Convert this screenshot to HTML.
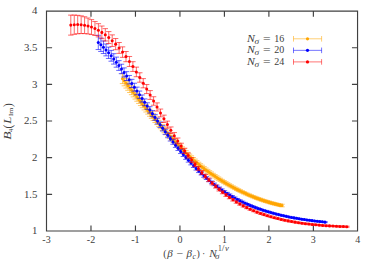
<!DOCTYPE html>
<html><head><meta charset="utf-8"><title>plot</title>
<style>html,body{margin:0;padding:0;background:#fff}body{width:374px;height:263px;position:relative;overflow:hidden;font-family:"Liberation Serif",serif}</style></head>
<body>
<svg width="374" height="263" viewBox="0 0 374 263" style="position:absolute;left:0;top:0">
<path d="M46.5 11.05H357.55V231.0H46.5ZM90.98 231.0v-5.6M90.98 11.05v5.6M135.46 231.0v-5.6M135.46 11.05v5.6M179.94 231.0v-5.6M179.94 11.05v5.6M224.41 231.0v-5.6M224.41 11.05v5.6M268.89 231.0v-5.6M268.89 11.05v5.6M313.37 231.0v-5.6M313.37 11.05v5.6M46.5 194.34h5.6M357.55 194.34h-5.6M46.5 157.68h5.6M357.55 157.68h-5.6M46.5 121.02h5.6M357.55 121.02h-5.6M46.5 84.37h5.6M357.55 84.37h-5.6M46.5 47.71h5.6M357.55 47.71h-5.6" stroke="#404040" stroke-width="1.15" fill="none"/>
<path d="M122.50 73.68V83.62M119.80 73.68h5.40M119.80 83.62h5.40M124.31 76.13V85.84M121.61 76.13h5.40M121.61 85.84h5.40M126.12 78.57V88.06M123.42 78.57h5.40M123.42 88.06h5.40M127.94 81.00V90.27M125.24 81.00h5.40M125.24 90.27h5.40M129.75 83.42V92.47M127.05 83.42h5.40M127.05 92.47h5.40M131.56 85.83V94.67M128.86 85.83h5.40M128.86 94.67h5.40M133.38 88.23V96.87M130.68 88.23h5.40M130.68 96.87h5.40M135.19 90.62V99.06M132.49 90.62h5.40M132.49 99.06h5.40M137.00 93.00V101.23M134.30 93.00h5.40M134.30 101.23h5.40M138.81 95.36V103.41M136.11 95.36h5.40M136.11 103.41h5.40M140.62 97.71V105.57M137.93 97.71h5.40M137.93 105.57h5.40M142.44 100.04V107.72M139.74 100.04h5.40M139.74 107.72h5.40M144.25 102.36V109.87M141.55 102.36h5.40M141.55 109.87h5.40M146.06 104.67V112.01M143.36 104.67h5.40M143.36 112.01h5.40M147.88 106.95V114.13M145.18 106.95h5.40M145.18 114.13h5.40M149.69 109.22V116.25M146.99 109.22h5.40M146.99 116.25h5.40M151.50 111.48V118.36M148.80 111.48h5.40M148.80 118.36h5.40M153.31 113.72V120.45M150.61 113.72h5.40M150.61 120.45h5.40M155.12 115.94V122.53M152.43 115.94h5.40M152.43 122.53h5.40M156.94 118.14V124.60M154.24 118.14h5.40M154.24 124.60h5.40M158.75 120.33V126.65M156.05 120.33h5.40M156.05 126.65h5.40M160.56 122.50V128.69M157.86 122.50h5.40M157.86 128.69h5.40M162.38 124.64V130.72M159.68 124.64h5.40M159.68 130.72h5.40M164.19 126.77V132.73M161.49 126.77h5.40M161.49 132.73h5.40M166.00 128.89V134.72M163.30 128.89h5.40M163.30 134.72h5.40M167.81 130.98V136.69M165.11 130.98h5.40M165.11 136.69h5.40M169.62 133.05V138.65M166.93 133.05h5.40M166.93 138.65h5.40M171.44 135.10V140.59M168.74 135.10h5.40M168.74 140.59h5.40M173.25 137.13V142.51M170.55 137.13h5.40M170.55 142.51h5.40M175.06 139.13V144.41M172.36 139.13h5.40M172.36 144.41h5.40M176.88 141.11V146.29M174.18 141.11h5.40M174.18 146.29h5.40M178.69 143.07V148.14M175.99 143.07h5.40M175.99 148.14h5.40M180.50 144.99V149.97M177.80 144.99h5.40M177.80 149.97h5.40M182.31 146.89V151.76M179.61 146.89h5.40M179.61 151.76h5.40M184.12 148.75V153.53M181.43 148.75h5.40M181.43 153.53h5.40M185.94 150.58V155.26M183.24 150.58h5.40M183.24 155.26h5.40M187.75 152.37V156.95M185.05 152.37h5.40M185.05 156.95h5.40M189.56 154.12V158.61M186.86 154.12h5.40M186.86 158.61h5.40M191.38 155.83V160.23M188.68 155.83h5.40M188.68 160.23h5.40M193.19 157.50V161.81M190.49 157.50h5.40M190.49 161.81h5.40M195.00 159.13V163.35M192.30 159.13h5.40M192.30 163.35h5.40M196.81 160.71V164.85M194.11 160.71h5.40M194.11 164.85h5.40M198.62 162.26V166.31M195.93 162.26h5.40M195.93 166.31h5.40M200.44 163.76V167.74M197.74 163.76h5.40M197.74 167.74h5.40M202.25 165.22V169.12M199.55 165.22h5.40M199.55 169.12h5.40M204.06 166.64V170.47M201.36 166.64h5.40M201.36 170.47h5.40M205.88 168.03V171.78M203.18 168.03h5.40M203.18 171.78h5.40M207.69 169.39V173.07M204.99 169.39h5.40M204.99 173.07h5.40M209.50 170.72V174.34M206.80 170.72h5.40M206.80 174.34h5.40M211.31 172.03V175.58M208.61 172.03h5.40M208.61 175.58h5.40M213.12 173.32V176.80M210.43 173.32h5.40M210.43 176.80h5.40M214.94 174.58V178.00M212.24 174.58h5.40M212.24 178.00h5.40M216.75 175.82V179.17M214.05 175.82h5.40M214.05 179.17h5.40M218.56 177.03V180.32M215.86 177.03h5.40M215.86 180.32h5.40M220.38 178.22V181.44M217.68 178.22h5.40M217.68 181.44h5.40M222.19 179.39V182.54M219.49 179.39h5.40M219.49 182.54h5.40M224.00 180.54V183.62M221.30 180.54h5.40M221.30 183.62h5.40M225.81 181.66V184.67M223.11 181.66h5.40M223.11 184.67h5.40M227.62 182.75V185.71M224.93 182.75h5.40M224.93 185.71h5.40M229.44 183.83V186.72M226.74 183.83h5.40M226.74 186.72h5.40M231.25 184.87V187.71M228.55 184.87h5.40M228.55 187.71h5.40M233.06 185.90V188.68M230.36 185.90h5.40M230.36 188.68h5.40M234.88 186.89V189.62M232.18 186.89h5.40M232.18 189.62h5.40M236.69 187.87V190.55M233.99 187.87h5.40M233.99 190.55h5.40M238.50 188.81V191.45M235.80 188.81h5.40M235.80 191.45h5.40M240.31 189.74V192.34M237.61 189.74h5.40M237.61 192.34h5.40M242.12 190.63V193.20M239.43 190.63h5.40M239.43 193.20h5.40M243.94 191.50V194.04M241.24 191.50h5.40M241.24 194.04h5.40M245.75 192.35V194.87M243.05 192.35h5.40M243.05 194.87h5.40M247.56 193.17V195.67M244.86 193.17h5.40M244.86 195.67h5.40M249.38 193.96V196.46M246.68 193.96h5.40M246.68 196.46h5.40M251.19 194.72V197.22M248.49 194.72h5.40M248.49 197.22h5.40M253.00 195.47V197.97M250.30 195.47h5.40M250.30 197.97h5.40M254.81 196.19V198.69M252.11 196.19h5.40M252.11 198.69h5.40M256.62 196.89V199.39M253.93 196.89h5.40M253.93 199.39h5.40M258.44 197.56V200.06M255.74 197.56h5.40M255.74 200.06h5.40M260.25 198.21V200.71M257.55 198.21h5.40M257.55 200.71h5.40M262.06 198.84V201.35M259.36 198.84h5.40M259.36 201.35h5.40M263.88 199.45V201.95M261.18 199.45h5.40M261.18 201.95h5.40M265.69 200.03V202.54M262.99 200.03h5.40M262.99 202.54h5.40M267.50 200.59V203.10M264.80 200.59h5.40M264.80 203.10h5.40M269.31 201.13V203.65M266.61 201.13h5.40M266.61 203.65h5.40M271.12 201.64V204.17M268.43 201.64h5.40M268.43 204.17h5.40M272.94 202.14V204.67M270.24 202.14h5.40M270.24 204.67h5.40M274.75 202.61V205.14M272.05 202.61h5.40M272.05 205.14h5.40M276.56 203.05V205.60M273.86 203.05h5.40M273.86 205.60h5.40M278.38 203.48V206.03M275.68 203.48h5.40M275.68 206.03h5.40M280.19 203.88V206.44M277.49 203.88h5.40M277.49 206.44h5.40M282.00 204.26V206.83M279.30 204.26h5.40M279.30 206.83h5.40" stroke="#ffa500" stroke-width="0.6" fill="none"/>
<g fill="#ffa500"><circle cx="122.50" cy="78.65" r="1.52"/><circle cx="124.31" cy="80.98" r="1.52"/><circle cx="126.12" cy="83.31" r="1.52"/><circle cx="127.94" cy="85.63" r="1.52"/><circle cx="129.75" cy="87.95" r="1.52"/><circle cx="131.56" cy="90.25" r="1.52"/><circle cx="133.38" cy="92.55" r="1.52"/><circle cx="135.19" cy="94.84" r="1.52"/><circle cx="137.00" cy="97.12" r="1.52"/><circle cx="138.81" cy="99.38" r="1.52"/><circle cx="140.62" cy="101.64" r="1.52"/><circle cx="142.44" cy="103.88" r="1.52"/><circle cx="144.25" cy="106.12" r="1.52"/><circle cx="146.06" cy="108.34" r="1.52"/><circle cx="147.88" cy="110.54" r="1.52"/><circle cx="149.69" cy="112.74" r="1.52"/><circle cx="151.50" cy="114.92" r="1.52"/><circle cx="153.31" cy="117.08" r="1.52"/><circle cx="155.12" cy="119.23" r="1.52"/><circle cx="156.94" cy="121.37" r="1.52"/><circle cx="158.75" cy="123.49" r="1.52"/><circle cx="160.56" cy="125.59" r="1.52"/><circle cx="162.38" cy="127.68" r="1.52"/><circle cx="164.19" cy="129.75" r="1.52"/><circle cx="166.00" cy="131.80" r="1.52"/><circle cx="167.81" cy="133.83" r="1.52"/><circle cx="169.62" cy="135.85" r="1.52"/><circle cx="171.44" cy="137.84" r="1.52"/><circle cx="173.25" cy="139.82" r="1.52"/><circle cx="175.06" cy="141.77" r="1.52"/><circle cx="176.88" cy="143.70" r="1.52"/><circle cx="178.69" cy="145.60" r="1.52"/><circle cx="180.50" cy="147.48" r="1.52"/><circle cx="182.31" cy="149.32" r="1.52"/><circle cx="184.12" cy="151.14" r="1.52"/><circle cx="185.94" cy="152.92" r="1.52"/><circle cx="187.75" cy="154.66" r="1.52"/><circle cx="189.56" cy="156.36" r="1.52"/><circle cx="191.38" cy="158.03" r="1.52"/><circle cx="193.19" cy="159.65" r="1.52"/><circle cx="195.00" cy="161.24" r="1.52"/><circle cx="196.81" cy="162.78" r="1.52"/><circle cx="198.62" cy="164.29" r="1.52"/><circle cx="200.44" cy="165.75" r="1.52"/><circle cx="202.25" cy="167.17" r="1.52"/><circle cx="204.06" cy="168.56" r="1.52"/><circle cx="205.88" cy="169.91" r="1.52"/><circle cx="207.69" cy="171.23" r="1.52"/><circle cx="209.50" cy="172.53" r="1.52"/><circle cx="211.31" cy="173.81" r="1.52"/><circle cx="213.12" cy="175.06" r="1.52"/><circle cx="214.94" cy="176.29" r="1.52"/><circle cx="216.75" cy="177.49" r="1.52"/><circle cx="218.56" cy="178.67" r="1.52"/><circle cx="220.38" cy="179.83" r="1.52"/><circle cx="222.19" cy="180.97" r="1.52"/><circle cx="224.00" cy="182.08" r="1.52"/><circle cx="225.81" cy="183.17" r="1.52"/><circle cx="227.62" cy="184.23" r="1.52"/><circle cx="229.44" cy="185.27" r="1.52"/><circle cx="231.25" cy="186.29" r="1.52"/><circle cx="233.06" cy="187.29" r="1.52"/><circle cx="234.88" cy="188.26" r="1.52"/><circle cx="236.69" cy="189.21" r="1.52"/><circle cx="238.50" cy="190.13" r="1.52"/><circle cx="240.31" cy="191.04" r="1.52"/><circle cx="242.12" cy="191.92" r="1.52"/><circle cx="243.94" cy="192.77" r="1.52"/><circle cx="245.75" cy="193.61" r="1.52"/><circle cx="247.56" cy="194.42" r="1.52"/><circle cx="249.38" cy="195.21" r="1.52"/><circle cx="251.19" cy="195.97" r="1.52"/><circle cx="253.00" cy="196.72" r="1.52"/><circle cx="254.81" cy="197.44" r="1.52"/><circle cx="256.62" cy="198.14" r="1.52"/><circle cx="258.44" cy="198.81" r="1.52"/><circle cx="260.25" cy="199.46" r="1.52"/><circle cx="262.06" cy="200.09" r="1.52"/><circle cx="263.88" cy="200.70" r="1.52"/><circle cx="265.69" cy="201.29" r="1.52"/><circle cx="267.50" cy="201.85" r="1.52"/><circle cx="269.31" cy="202.39" r="1.52"/><circle cx="271.12" cy="202.91" r="1.52"/><circle cx="272.94" cy="203.40" r="1.52"/><circle cx="274.75" cy="203.87" r="1.52"/><circle cx="276.56" cy="204.32" r="1.52"/><circle cx="278.38" cy="204.75" r="1.52"/><circle cx="280.19" cy="205.16" r="1.52"/><circle cx="282.00" cy="205.54" r="1.52"/></g>

<path d="M98.30 35.26V49.55M95.60 35.26h5.40M95.60 49.55h5.40M100.88 38.05V51.44M98.18 38.05h5.40M98.18 51.44h5.40M103.45 40.98V53.54M100.75 40.98h5.40M100.75 53.54h5.40M106.03 44.03V55.87M103.33 44.03h5.40M103.33 55.87h5.40M108.60 47.16V58.44M105.90 47.16h5.40M105.90 58.44h5.40M111.18 50.37V61.20M108.48 50.37h5.40M108.48 61.20h5.40M113.76 53.69V64.12M111.06 53.69h5.40M111.06 64.12h5.40M116.33 57.11V67.19M113.63 57.11h5.40M113.63 67.19h5.40M118.91 60.63V70.38M116.21 60.63h5.40M116.21 70.38h5.40M121.49 64.22V73.67M118.79 64.22h5.40M118.79 73.67h5.40M124.06 67.90V77.05M121.36 67.90h5.40M121.36 77.05h5.40M126.64 71.65V80.50M123.94 71.65h5.40M123.94 80.50h5.40M129.21 75.47V84.00M126.51 75.47h5.40M126.51 84.00h5.40M131.79 79.33V87.55M129.09 79.33h5.40M129.09 87.55h5.40M134.37 83.22V91.13M131.67 83.22h5.40M131.67 91.13h5.40M136.94 87.13V94.75M134.24 87.13h5.40M134.24 94.75h5.40M139.52 91.05V98.39M136.82 91.05h5.40M136.82 98.39h5.40M142.09 94.98V102.05M139.39 94.98h5.40M139.39 102.05h5.40M144.67 98.91V105.72M141.97 98.91h5.40M141.97 105.72h5.40M147.25 102.81V109.39M144.55 102.81h5.40M144.55 109.39h5.40M149.82 106.70V113.05M147.12 106.70h5.40M147.12 113.05h5.40M152.40 110.57V116.70M149.70 110.57h5.40M149.70 116.70h5.40M154.97 114.40V120.32M152.28 114.40h5.40M152.28 120.32h5.40M157.55 118.19V123.90M154.85 118.19h5.40M154.85 123.90h5.40M160.13 121.93V127.44M157.43 121.93h5.40M157.43 127.44h5.40M162.70 125.61V130.93M160.00 125.61h5.40M160.00 130.93h5.40M165.28 129.23V134.36M162.58 129.23h5.40M162.58 134.36h5.40M167.86 132.77V137.73M165.16 132.77h5.40M165.16 137.73h5.40M170.43 136.25V141.03M167.73 136.25h5.40M167.73 141.03h5.40M173.01 139.65V144.26M170.31 139.65h5.40M170.31 144.26h5.40M175.58 142.97V147.42M172.88 142.97h5.40M172.88 147.42h5.40M178.16 146.21V150.52M175.46 146.21h5.40M175.46 150.52h5.40M180.74 149.38V153.54M178.04 149.38h5.40M178.04 153.54h5.40M183.31 152.47V156.49M180.61 152.47h5.40M180.61 156.49h5.40M185.89 155.48V159.36M183.19 155.48h5.40M183.19 159.36h5.40M188.46 158.41V162.15M185.76 158.41h5.40M185.76 162.15h5.40M191.04 161.26V164.87M188.34 161.26h5.40M188.34 164.87h5.40M193.62 164.03V167.51M190.92 164.03h5.40M190.92 167.51h5.40M196.19 166.72V170.08M193.49 166.72h5.40M193.49 170.08h5.40M198.77 169.32V172.56M196.07 169.32h5.40M196.07 172.56h5.40M201.35 171.84V174.96M198.65 171.84h5.40M198.65 174.96h5.40M203.92 174.27V177.27M201.22 174.27h5.40M201.22 177.27h5.40M206.50 176.61V179.51M203.80 176.61h5.40M203.80 179.51h5.40M209.07 178.87V181.66M206.37 178.87h5.40M206.37 181.66h5.40M211.65 181.04V183.73M208.95 181.04h5.40M208.95 183.73h5.40M214.23 183.12V185.72M211.53 183.12h5.40M211.53 185.72h5.40M216.80 185.13V187.64M214.10 185.13h5.40M214.10 187.64h5.40M219.38 187.06V189.48M216.68 187.06h5.40M216.68 189.48h5.40M221.95 188.90V191.24M219.25 188.90h5.40M219.25 191.24h5.40M224.53 190.68V192.93M221.83 190.68h5.40M221.83 192.93h5.40M227.11 192.38V194.55M224.41 192.38h5.40M224.41 194.55h5.40M229.68 194.01V196.10M226.98 194.01h5.40M226.98 196.10h5.40M232.26 195.57V197.58M229.56 195.57h5.40M229.56 197.58h5.40M234.84 197.06V198.99M232.14 197.06h5.40M232.14 198.99h5.40M237.41 198.48V200.34M234.71 198.48h5.40M234.71 200.34h5.40M239.99 199.84V201.63M237.29 199.84h5.40M237.29 201.63h5.40M242.56 201.14V202.86M239.86 201.14h5.40M239.86 202.86h5.40M245.14 202.37V204.03M242.44 202.37h5.40M242.44 204.03h5.40M247.72 203.55V205.15M245.02 203.55h5.40M245.02 205.15h5.40M250.29 204.68V206.22M247.59 204.68h5.40M247.59 206.22h5.40M252.87 205.74V207.24M250.17 205.74h5.40M250.17 207.24h5.40M255.44 206.76V208.22M252.74 206.76h5.40M252.74 208.22h5.40M258.02 207.73V209.15M255.32 207.73h5.40M255.32 209.15h5.40M260.60 208.65V210.04M257.90 208.65h5.40M257.90 210.04h5.40M263.17 209.53V210.90M260.47 209.53h5.40M260.47 210.90h5.40M265.75 210.37V211.71M263.05 210.37h5.40M263.05 211.71h5.40M268.32 211.16V212.48M265.62 211.16h5.40M265.62 212.48h5.40M270.90 211.93V213.22M268.20 211.93h5.40M268.20 213.22h5.40M273.48 212.65V213.93M270.78 212.65h5.40M270.78 213.93h5.40M276.05 213.34V214.60M273.35 213.34h5.40M273.35 214.60h5.40M278.63 214.00V215.23M275.93 214.00h5.40M275.93 215.23h5.40M281.21 214.63V215.84M278.51 214.63h5.40M278.51 215.84h5.40M283.78 215.22V216.41M281.08 215.22h5.40M281.08 216.41h5.40M286.36 215.79V216.96M283.66 215.79h5.40M283.66 216.96h5.40M288.93 216.32V217.48M286.23 216.32h5.40M286.23 217.48h5.40M291.51 216.84V217.97M288.81 216.84h5.40M288.81 217.97h5.40M294.09 217.32V218.44M291.39 217.32h5.40M291.39 218.44h5.40M296.66 217.78V218.89M293.96 217.78h5.40M293.96 218.89h5.40M299.24 218.22V219.31M296.54 218.22h5.40M296.54 219.31h5.40M301.81 218.64V219.71M299.11 218.64h5.40M299.11 219.71h5.40M304.39 219.03V220.09M301.69 219.03h5.40M301.69 220.09h5.40M306.97 219.41V220.46M304.27 219.41h5.40M304.27 220.46h5.40M309.54 219.77V220.81M306.84 219.77h5.40M306.84 220.81h5.40M312.12 220.11V221.14M309.42 220.11h5.40M309.42 221.14h5.40M314.70 220.44V221.46M312.00 220.44h5.40M312.00 221.46h5.40M317.27 220.75V221.77M314.57 220.75h5.40M314.57 221.77h5.40M319.85 221.05V222.07M317.15 221.05h5.40M317.15 222.07h5.40M322.42 221.35V222.35M319.72 221.35h5.40M319.72 222.35h5.40M325.00 221.63V222.63M322.30 221.63h5.40M322.30 222.63h5.40" stroke="#0000ff" stroke-width="0.6" fill="none"/>
<g fill="#0000ff"><circle cx="98.30" cy="42.41" r="1.52"/><circle cx="100.88" cy="44.75" r="1.52"/><circle cx="103.45" cy="47.26" r="1.52"/><circle cx="106.03" cy="49.95" r="1.52"/><circle cx="108.60" cy="52.80" r="1.52"/><circle cx="111.18" cy="55.79" r="1.52"/><circle cx="113.76" cy="58.91" r="1.52"/><circle cx="116.33" cy="62.15" r="1.52"/><circle cx="118.91" cy="65.50" r="1.52"/><circle cx="121.49" cy="68.95" r="1.52"/><circle cx="124.06" cy="72.47" r="1.52"/><circle cx="126.64" cy="76.07" r="1.52"/><circle cx="129.21" cy="79.73" r="1.52"/><circle cx="131.79" cy="83.44" r="1.52"/><circle cx="134.37" cy="87.18" r="1.52"/><circle cx="136.94" cy="90.94" r="1.52"/><circle cx="139.52" cy="94.72" r="1.52"/><circle cx="142.09" cy="98.52" r="1.52"/><circle cx="144.67" cy="102.31" r="1.52"/><circle cx="147.25" cy="106.10" r="1.52"/><circle cx="149.82" cy="109.88" r="1.52"/><circle cx="152.40" cy="113.63" r="1.52"/><circle cx="154.97" cy="117.36" r="1.52"/><circle cx="157.55" cy="121.04" r="1.52"/><circle cx="160.13" cy="124.68" r="1.52"/><circle cx="162.70" cy="128.27" r="1.52"/><circle cx="165.28" cy="131.80" r="1.52"/><circle cx="167.86" cy="135.25" r="1.52"/><circle cx="170.43" cy="138.64" r="1.52"/><circle cx="173.01" cy="141.95" r="1.52"/><circle cx="175.58" cy="145.20" r="1.52"/><circle cx="178.16" cy="148.36" r="1.52"/><circle cx="180.74" cy="151.46" r="1.52"/><circle cx="183.31" cy="154.48" r="1.52"/><circle cx="185.89" cy="157.42" r="1.52"/><circle cx="188.46" cy="160.28" r="1.52"/><circle cx="191.04" cy="163.07" r="1.52"/><circle cx="193.62" cy="165.77" r="1.52"/><circle cx="196.19" cy="168.40" r="1.52"/><circle cx="198.77" cy="170.94" r="1.52"/><circle cx="201.35" cy="173.40" r="1.52"/><circle cx="203.92" cy="175.77" r="1.52"/><circle cx="206.50" cy="178.06" r="1.52"/><circle cx="209.07" cy="180.26" r="1.52"/><circle cx="211.65" cy="182.38" r="1.52"/><circle cx="214.23" cy="184.42" r="1.52"/><circle cx="216.80" cy="186.38" r="1.52"/><circle cx="219.38" cy="188.27" r="1.52"/><circle cx="221.95" cy="190.07" r="1.52"/><circle cx="224.53" cy="191.80" r="1.52"/><circle cx="227.11" cy="193.46" r="1.52"/><circle cx="229.68" cy="195.05" r="1.52"/><circle cx="232.26" cy="196.57" r="1.52"/><circle cx="234.84" cy="198.02" r="1.52"/><circle cx="237.41" cy="199.41" r="1.52"/><circle cx="239.99" cy="200.73" r="1.52"/><circle cx="242.56" cy="202.00" r="1.52"/><circle cx="245.14" cy="203.20" r="1.52"/><circle cx="247.72" cy="204.35" r="1.52"/><circle cx="250.29" cy="205.45" r="1.52"/><circle cx="252.87" cy="206.49" r="1.52"/><circle cx="255.44" cy="207.49" r="1.52"/><circle cx="258.02" cy="208.44" r="1.52"/><circle cx="260.60" cy="209.35" r="1.52"/><circle cx="263.17" cy="210.21" r="1.52"/><circle cx="265.75" cy="211.04" r="1.52"/><circle cx="268.32" cy="211.82" r="1.52"/><circle cx="270.90" cy="212.57" r="1.52"/><circle cx="273.48" cy="213.29" r="1.52"/><circle cx="276.05" cy="213.97" r="1.52"/><circle cx="278.63" cy="214.62" r="1.52"/><circle cx="281.21" cy="215.23" r="1.52"/><circle cx="283.78" cy="215.82" r="1.52"/><circle cx="286.36" cy="216.37" r="1.52"/><circle cx="288.93" cy="216.90" r="1.52"/><circle cx="291.51" cy="217.40" r="1.52"/><circle cx="294.09" cy="217.88" r="1.52"/><circle cx="296.66" cy="218.33" r="1.52"/><circle cx="299.24" cy="218.76" r="1.52"/><circle cx="301.81" cy="219.17" r="1.52"/><circle cx="304.39" cy="219.56" r="1.52"/><circle cx="306.97" cy="219.93" r="1.52"/><circle cx="309.54" cy="220.29" r="1.52"/><circle cx="312.12" cy="220.63" r="1.52"/><circle cx="314.70" cy="220.95" r="1.52"/><circle cx="317.27" cy="221.26" r="1.52"/><circle cx="319.85" cy="221.56" r="1.52"/><circle cx="322.42" cy="221.85" r="1.52"/><circle cx="325.00" cy="222.13" r="1.52"/></g>

<path d="M70.80 15.12V35.12M68.10 15.12h5.40M68.10 35.12h5.40M74.25 15.06V34.31M71.55 15.06h5.40M71.55 34.31h5.40M77.70 15.30V33.78M75.00 15.30h5.40M75.00 33.78h5.40M81.15 15.87V33.55M78.45 15.87h5.40M78.45 33.55h5.40M84.60 16.77V33.61M81.90 16.77h5.40M81.90 33.61h5.40M88.05 18.02V33.94M85.35 18.02h5.40M85.35 33.94h5.40M91.50 19.64V34.55M88.80 19.64h5.40M88.80 34.55h5.40M94.95 21.55V35.50M92.25 21.55h5.40M92.25 35.50h5.40M98.40 23.68V36.89M95.70 23.68h5.40M95.70 36.89h5.40M101.85 26.02V38.73M99.15 26.02h5.40M99.15 38.73h5.40M105.30 28.65V40.95M102.60 28.65h5.40M102.60 40.95h5.40M108.75 31.60V43.54M106.05 31.60h5.40M106.05 43.54h5.40M112.20 34.89V46.47M109.50 34.89h5.40M109.50 46.47h5.40M115.65 38.53V49.73M112.95 38.53h5.40M112.95 49.73h5.40M119.10 42.53V53.36M116.40 42.53h5.40M116.40 53.36h5.40M122.55 46.86V57.35M119.85 46.86h5.40M119.85 57.35h5.40M126.00 51.52V61.72M123.30 51.52h5.40M123.30 61.72h5.40M129.45 56.48V66.44M126.75 56.48h5.40M126.75 66.44h5.40M132.90 61.69V71.45M130.20 61.69h5.40M130.20 71.45h5.40M136.35 67.14V76.72M133.65 67.14h5.40M133.65 76.72h5.40M139.80 72.79V82.20M137.10 72.79h5.40M137.10 82.20h5.40M143.25 78.61V87.83M140.55 78.61h5.40M140.55 87.83h5.40M146.70 84.56V93.58M144.00 84.56h5.40M144.00 93.58h5.40M150.15 90.61V99.40M147.45 90.61h5.40M147.45 99.40h5.40M153.60 96.74V105.23M150.90 96.74h5.40M150.90 105.23h5.40M157.05 102.90V111.05M154.35 102.90h5.40M154.35 111.05h5.40M160.50 109.05V116.81M157.80 109.05h5.40M157.80 116.81h5.40M163.95 115.14V122.49M161.25 115.14h5.40M161.25 122.49h5.40M167.40 121.12V128.06M164.70 121.12h5.40M164.70 128.06h5.40M170.85 126.95V133.48M168.15 126.95h5.40M168.15 133.48h5.40M174.30 132.58V138.73M171.60 132.58h5.40M171.60 138.73h5.40M177.75 138.01V143.81M175.05 138.01h5.40M175.05 143.81h5.40M181.20 143.23V148.73M178.50 143.23h5.40M178.50 148.73h5.40M184.65 148.24V153.47M181.95 148.24h5.40M181.95 153.47h5.40M188.10 153.07V158.03M185.40 153.07h5.40M185.40 158.03h5.40M191.55 157.71V162.41M188.85 157.71h5.40M188.85 162.41h5.40M195.00 162.16V166.60M192.30 162.16h5.40M192.30 166.60h5.40M198.45 166.42V170.62M195.75 166.42h5.40M195.75 170.62h5.40M201.90 170.48V174.45M199.20 170.48h5.40M199.20 174.45h5.40M205.35 174.36V178.11M202.65 174.36h5.40M202.65 178.11h5.40M208.80 178.04V181.59M206.10 178.04h5.40M206.10 181.59h5.40M212.25 181.54V184.90M209.55 181.54h5.40M209.55 184.90h5.40M215.70 184.84V188.03M213.00 184.84h5.40M213.00 188.03h5.40M219.15 187.95V190.99M216.45 187.95h5.40M216.45 190.99h5.40M222.60 190.87V193.77M219.90 190.87h5.40M219.90 193.77h5.40M226.05 193.61V196.37M223.35 193.61h5.40M223.35 196.37h5.40M229.50 196.17V198.80M226.80 196.17h5.40M226.80 198.80h5.40M232.95 198.57V201.06M230.25 198.57h5.40M230.25 201.06h5.40M236.40 200.80V203.18M233.70 200.80h5.40M233.70 203.18h5.40M239.85 202.87V205.14M237.15 202.87h5.40M237.15 205.14h5.40M243.30 204.80V206.97M240.60 204.80h5.40M240.60 206.97h5.40M246.75 206.59V208.66M244.05 206.59h5.40M244.05 208.66h5.40M250.20 208.25V210.24M247.50 208.25h5.40M247.50 210.24h5.40M253.65 209.79V211.70M250.95 209.79h5.40M250.95 211.70h5.40M257.10 211.21V213.05M254.40 211.21h5.40M254.40 213.05h5.40M260.55 212.52V214.31M257.85 212.52h5.40M257.85 214.31h5.40M264.00 213.73V215.48M261.30 213.73h5.40M261.30 215.48h5.40M267.45 214.86V216.56M264.75 214.86h5.40M264.75 216.56h5.40M270.90 215.90V217.56M268.20 215.90h5.40M268.20 217.56h5.40M274.35 216.88V218.50M271.65 216.88h5.40M271.65 218.50h5.40M277.80 217.79V219.36M275.10 217.79h5.40M275.10 219.36h5.40M281.25 218.63V220.17M278.55 218.63h5.40M278.55 220.17h5.40M284.70 219.42V220.92M282.00 219.42h5.40M282.00 220.92h5.40M288.15 220.15V221.61M285.45 220.15h5.40M285.45 221.61h5.40M291.60 220.82V222.24M288.90 220.82h5.40M288.90 222.24h5.40M295.05 221.44V222.83M292.35 221.44h5.40M292.35 222.83h5.40M298.50 222.01V223.37M295.80 222.01h5.40M295.80 223.37h5.40M301.95 222.53V223.86M299.25 222.53h5.40M299.25 223.86h5.40M305.40 223.01V224.30M302.70 223.01h5.40M302.70 224.30h5.40M308.85 223.44V224.71M306.15 223.44h5.40M306.15 224.71h5.40M312.30 223.84V225.08M309.60 223.84h5.40M309.60 225.08h5.40M315.75 224.19V225.41M313.05 224.19h5.40M313.05 225.41h5.40M319.20 224.52V225.71M316.50 224.52h5.40M316.50 225.71h5.40M322.65 224.81V225.99M319.95 224.81h5.40M319.95 225.99h5.40M326.10 225.07V226.23M323.40 225.07h5.40M323.40 226.23h5.40M329.55 225.31V226.45M326.85 225.31h5.40M326.85 226.45h5.40M333.00 225.52V226.65M330.30 225.52h5.40M330.30 226.65h5.40M336.45 225.71V226.83M333.75 225.71h5.40M333.75 226.83h5.40M339.90 225.88V226.99M337.20 225.88h5.40M337.20 226.99h5.40M343.35 226.03V227.14M340.65 226.03h5.40M340.65 227.14h5.40M346.80 226.17V227.27M344.10 226.17h5.40M344.10 227.27h5.40" stroke="#ff0000" stroke-width="0.6" fill="none"/>
<g fill="#ff0000"><circle cx="70.80" cy="25.12" r="1.52"/><circle cx="74.25" cy="24.68" r="1.52"/><circle cx="77.70" cy="24.54" r="1.52"/><circle cx="81.15" cy="24.71" r="1.52"/><circle cx="84.60" cy="25.19" r="1.52"/><circle cx="88.05" cy="25.98" r="1.52"/><circle cx="91.50" cy="27.09" r="1.52"/><circle cx="94.95" cy="28.53" r="1.52"/><circle cx="98.40" cy="30.29" r="1.52"/><circle cx="101.85" cy="32.38" r="1.52"/><circle cx="105.30" cy="34.80" r="1.52"/><circle cx="108.75" cy="37.57" r="1.52"/><circle cx="112.20" cy="40.68" r="1.52"/><circle cx="115.65" cy="44.13" r="1.52"/><circle cx="119.10" cy="47.94" r="1.52"/><circle cx="122.55" cy="52.10" r="1.52"/><circle cx="126.00" cy="56.62" r="1.52"/><circle cx="129.45" cy="61.46" r="1.52"/><circle cx="132.90" cy="66.57" r="1.52"/><circle cx="136.35" cy="71.93" r="1.52"/><circle cx="139.80" cy="77.49" r="1.52"/><circle cx="143.25" cy="83.22" r="1.52"/><circle cx="146.70" cy="89.07" r="1.52"/><circle cx="150.15" cy="95.00" r="1.52"/><circle cx="153.60" cy="100.99" r="1.52"/><circle cx="157.05" cy="106.97" r="1.52"/><circle cx="160.50" cy="112.93" r="1.52"/><circle cx="163.95" cy="118.81" r="1.52"/><circle cx="167.40" cy="124.59" r="1.52"/><circle cx="170.85" cy="130.21" r="1.52"/><circle cx="174.30" cy="135.65" r="1.52"/><circle cx="177.75" cy="140.91" r="1.52"/><circle cx="181.20" cy="145.98" r="1.52"/><circle cx="184.65" cy="150.86" r="1.52"/><circle cx="188.10" cy="155.55" r="1.52"/><circle cx="191.55" cy="160.06" r="1.52"/><circle cx="195.00" cy="164.38" r="1.52"/><circle cx="198.45" cy="168.52" r="1.52"/><circle cx="201.90" cy="172.47" r="1.52"/><circle cx="205.35" cy="176.24" r="1.52"/><circle cx="208.80" cy="179.82" r="1.52"/><circle cx="212.25" cy="183.22" r="1.52"/><circle cx="215.70" cy="186.43" r="1.52"/><circle cx="219.15" cy="189.47" r="1.52"/><circle cx="222.60" cy="192.32" r="1.52"/><circle cx="226.05" cy="194.99" r="1.52"/><circle cx="229.50" cy="197.49" r="1.52"/><circle cx="232.95" cy="199.82" r="1.52"/><circle cx="236.40" cy="201.99" r="1.52"/><circle cx="239.85" cy="204.01" r="1.52"/><circle cx="243.30" cy="205.88" r="1.52"/><circle cx="246.75" cy="207.63" r="1.52"/><circle cx="250.20" cy="209.24" r="1.52"/><circle cx="253.65" cy="210.74" r="1.52"/><circle cx="257.10" cy="212.13" r="1.52"/><circle cx="260.55" cy="213.42" r="1.52"/><circle cx="264.00" cy="214.61" r="1.52"/><circle cx="267.45" cy="215.71" r="1.52"/><circle cx="270.90" cy="216.73" r="1.52"/><circle cx="274.35" cy="217.69" r="1.52"/><circle cx="277.80" cy="218.58" r="1.52"/><circle cx="281.25" cy="219.40" r="1.52"/><circle cx="284.70" cy="220.17" r="1.52"/><circle cx="288.15" cy="220.88" r="1.52"/><circle cx="291.60" cy="221.53" r="1.52"/><circle cx="295.05" cy="222.13" r="1.52"/><circle cx="298.50" cy="222.69" r="1.52"/><circle cx="301.95" cy="223.19" r="1.52"/><circle cx="305.40" cy="223.66" r="1.52"/><circle cx="308.85" cy="224.08" r="1.52"/><circle cx="312.30" cy="224.46" r="1.52"/><circle cx="315.75" cy="224.80" r="1.52"/><circle cx="319.20" cy="225.12" r="1.52"/><circle cx="322.65" cy="225.40" r="1.52"/><circle cx="326.10" cy="225.65" r="1.52"/><circle cx="329.55" cy="225.88" r="1.52"/><circle cx="333.00" cy="226.08" r="1.52"/><circle cx="336.45" cy="226.27" r="1.52"/><circle cx="339.90" cy="226.43" r="1.52"/><circle cx="343.35" cy="226.58" r="1.52"/><circle cx="346.80" cy="226.72" r="1.52"/></g>

<path d="M293.5 38.8H321.6M293.5 36.0v5.6M321.6 36.0v5.6" stroke="#ffa500" stroke-width="0.55" fill="none"/><circle cx="307.5" cy="38.8" r="1.6" fill="#ffa500"/>
<path d="M293.5 50.349999999999994H321.6M293.5 47.55v5.6M321.6 47.55v5.6" stroke="#0000ff" stroke-width="0.55" fill="none"/><circle cx="307.5" cy="50.349999999999994" r="1.6" fill="#0000ff"/>
<path d="M293.5 61.9H321.6M293.5 59.1v5.6M321.6 59.1v5.6" stroke="#ff0000" stroke-width="0.55" fill="none"/><circle cx="307.5" cy="61.9" r="1.6" fill="#ff0000"/>
<text transform="translate(37.40,234.30) scale(1.08,1)" font-family="Liberation Serif, serif" font-size="10" fill="#404040" text-anchor="end">1</text>
<text transform="translate(37.40,197.64) scale(1.08,1)" font-family="Liberation Serif, serif" font-size="10" fill="#404040" text-anchor="end">1.5</text>
<text transform="translate(37.40,160.98) scale(1.08,1)" font-family="Liberation Serif, serif" font-size="10" fill="#404040" text-anchor="end">2</text>
<text transform="translate(37.40,124.32) scale(1.08,1)" font-family="Liberation Serif, serif" font-size="10" fill="#404040" text-anchor="end">2.5</text>
<text transform="translate(37.40,87.67) scale(1.08,1)" font-family="Liberation Serif, serif" font-size="10" fill="#404040" text-anchor="end">3</text>
<text transform="translate(37.40,51.01) scale(1.08,1)" font-family="Liberation Serif, serif" font-size="10" fill="#404040" text-anchor="end">3.5</text>
<text transform="translate(37.40,14.35) scale(1.08,1)" font-family="Liberation Serif, serif" font-size="10" fill="#404040" text-anchor="end">4</text>
<text transform="translate(46.50,243.30) scale(1.0,1)" font-family="Liberation Serif, serif" font-size="10" fill="#404040" text-anchor="middle">-3</text>
<text transform="translate(90.98,243.30) scale(1.0,1)" font-family="Liberation Serif, serif" font-size="10" fill="#404040" text-anchor="middle">-2</text>
<text transform="translate(135.46,243.30) scale(1.0,1)" font-family="Liberation Serif, serif" font-size="10" fill="#404040" text-anchor="middle">-1</text>
<text transform="translate(179.94,243.30) scale(1.0,1)" font-family="Liberation Serif, serif" font-size="10" fill="#404040" text-anchor="middle">0</text>
<text transform="translate(224.41,243.30) scale(1.0,1)" font-family="Liberation Serif, serif" font-size="10" fill="#404040" text-anchor="middle">1</text>
<text transform="translate(268.89,243.30) scale(1.0,1)" font-family="Liberation Serif, serif" font-size="10" fill="#404040" text-anchor="middle">2</text>
<text transform="translate(313.37,243.30) scale(1.0,1)" font-family="Liberation Serif, serif" font-size="10" fill="#404040" text-anchor="middle">3</text>
<text transform="translate(357.85,243.30) scale(1.0,1)" font-family="Liberation Serif, serif" font-size="10" fill="#404040" text-anchor="middle">4</text>
<text transform="translate(246.90,41.80) scale(1.18,1)" font-family="Liberation Serif, serif" font-size="10" fill="#404040" text-anchor="start" font-style="italic">N</text>
<text transform="translate(254.60,43.50) scale(1.25,1)" font-family="Liberation Serif, serif" font-size="7.5" fill="#404040" text-anchor="start" font-style="italic">σ</text>
<text transform="translate(263.00,41.80) scale(1.35,1)" font-family="Liberation Serif, serif" font-size="10" fill="#404040" text-anchor="start">=</text>
<text transform="translate(274.30,41.80) scale(1.0,1)" font-family="Liberation Serif, serif" font-size="10" fill="#404040" text-anchor="start">16</text>
<text transform="translate(246.90,53.35) scale(1.18,1)" font-family="Liberation Serif, serif" font-size="10" fill="#404040" text-anchor="start" font-style="italic">N</text>
<text transform="translate(254.60,55.05) scale(1.25,1)" font-family="Liberation Serif, serif" font-size="7.5" fill="#404040" text-anchor="start" font-style="italic">σ</text>
<text transform="translate(263.00,53.35) scale(1.35,1)" font-family="Liberation Serif, serif" font-size="10" fill="#404040" text-anchor="start">=</text>
<text transform="translate(274.30,53.35) scale(1.0,1)" font-family="Liberation Serif, serif" font-size="10" fill="#404040" text-anchor="start">20</text>
<text transform="translate(246.90,64.90) scale(1.18,1)" font-family="Liberation Serif, serif" font-size="10" fill="#404040" text-anchor="start" font-style="italic">N</text>
<text transform="translate(254.60,66.60) scale(1.25,1)" font-family="Liberation Serif, serif" font-size="7.5" fill="#404040" text-anchor="start" font-style="italic">σ</text>
<text transform="translate(263.00,64.90) scale(1.35,1)" font-family="Liberation Serif, serif" font-size="10" fill="#404040" text-anchor="start">=</text>
<text transform="translate(274.30,64.90) scale(1.0,1)" font-family="Liberation Serif, serif" font-size="10" fill="#404040" text-anchor="start">24</text>
<text transform="translate(163.30,257.00) scale(1.0,1)" font-family="Liberation Serif, serif" font-size="10" fill="#404040" text-anchor="start">(</text>
<text transform="translate(167.30,257.00) scale(1.1,1)" font-family="Liberation Serif, serif" font-size="10" fill="#404040" text-anchor="start" font-style="italic">β</text>
<text transform="translate(176.40,257.00) scale(1.2,1)" font-family="Liberation Serif, serif" font-size="10" fill="#404040" text-anchor="start">−</text>
<text transform="translate(186.60,257.00) scale(1.1,1)" font-family="Liberation Serif, serif" font-size="10" fill="#404040" text-anchor="start" font-style="italic">β</text>
<text transform="translate(192.40,258.70) scale(1.0,1)" font-family="Liberation Serif, serif" font-size="7.5" fill="#404040" text-anchor="start" font-style="italic">c</text>
<text transform="translate(196.40,257.00) scale(1.0,1)" font-family="Liberation Serif, serif" font-size="10" fill="#404040" text-anchor="start">)</text>
<text transform="translate(202.10,257.00) scale(1.0,1)" font-family="Liberation Serif, serif" font-size="10" fill="#404040" text-anchor="start">·</text>
<text transform="translate(209.30,257.00) scale(1.12,1)" font-family="Liberation Serif, serif" font-size="10" fill="#404040" text-anchor="start" font-style="italic">N</text>
<text transform="translate(215.00,259.40) scale(1.2,1)" font-family="Liberation Serif, serif" font-size="7.5" fill="#404040" text-anchor="start" font-style="italic">σ</text>
<text transform="translate(218.00,251.40) scale(1.0,1)" font-family="Liberation Serif, serif" font-size="7.5" fill="#404040" text-anchor="start">1</text>
<text transform="translate(221.70,251.40) scale(1.3,1)" font-family="Liberation Serif, serif" font-size="7.5" fill="#404040" text-anchor="start">/</text>
<text transform="translate(225.00,251.40) scale(1.15,1)" font-family="Liberation Serif, serif" font-size="7.5" fill="#404040" text-anchor="start" font-style="italic">ν</text>
<text transform="translate(10.90,139.80) rotate(-90) scale(1.36,1)" font-family="Liberation Serif, serif" font-size="10" fill="#404040" text-anchor="start" font-style="italic">B</text>
<text transform="translate(12.70,132.10) rotate(-90) scale(1.0,1)" font-family="Liberation Serif, serif" font-size="6.5" fill="#404040" text-anchor="start">4</text>
<text transform="translate(11.60,128.40) rotate(-90) scale(1.0,1)" font-family="Liberation Serif, serif" font-size="11.5" fill="#404040" text-anchor="start">(</text>
<text transform="translate(10.90,123.70) rotate(-90) scale(1.3,1)" font-family="Liberation Serif, serif" font-size="10" fill="#404040" text-anchor="start" font-style="italic">L</text>
<text transform="translate(12.70,116.30) rotate(-90) scale(1.2,1)" font-family="Liberation Serif, serif" font-size="6.5" fill="#404040" text-anchor="start">Im</text>
<text transform="translate(11.60,107.10) rotate(-90) scale(1.0,1)" font-family="Liberation Serif, serif" font-size="11.5" fill="#404040" text-anchor="start">)</text>
</svg>
</body></html>
